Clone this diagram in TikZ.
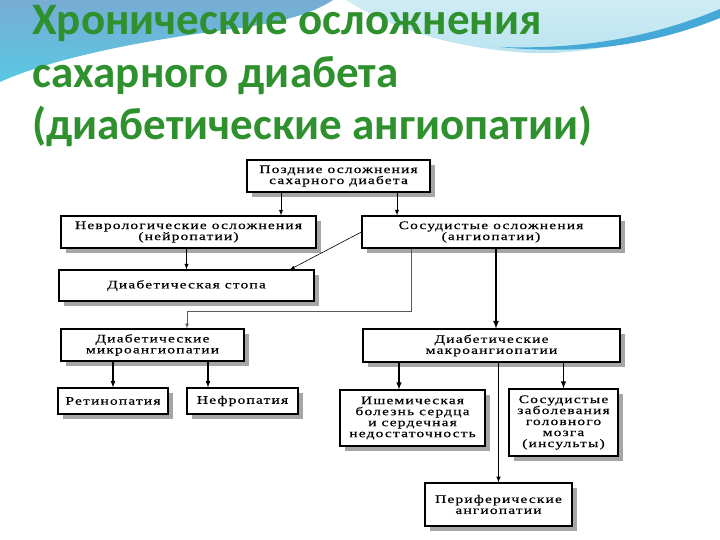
\documentclass[tikz,border=0pt]{standalone}
\usepackage{fontspec}
\setmainfont{Liberation Serif}[LetterSpace=10, FakeStretch=1.35, FakeBold=0.5]
\newfontfamily\zagfont{Carlito}
\usetikzlibrary{shadows}
\definecolor{zagzel}{RGB}{46,145,46}
\definecolor{volnasin}{RGB}{120,172,212}
\definecolor{volnabir}{RGB}{88,200,226}
\definecolor{volnagol}{RGB}{186,228,240}
\definecolor{polosa}{RGB}{70,168,214}
\begin{document}
\begin{tikzpicture}[x=1pt, y=-1pt, >=latex,
    blok/.style={draw, line width=1.1pt, fill=white, inner sep=1pt, align=center,
      font=\fontsize{11.5}{11}\selectfont,
      general shadow={fill=black!35, shadow xshift=5pt, shadow yshift=-5pt}},
    zag/.style={anchor=base west, inner sep=0pt, text=zagzel,
      font=\zagfont\bfseries\fontsize{45}{48}\selectfont}]
\useasboundingbox (0,0) rectangle (720,540);
% Фон слайда
\fill[white] (0,0) rectangle (720,540);
\shade[top color=volnasin, bottom color=volnabir] (0,0) -- (333,0)
  .. controls (310,15) and (280,22) .. (240,28) .. controls (160,38) and (60,55) .. (0,82) -- cycle;
\shade[top color=volnagol!70, bottom color=volnagol] (346,0) -- (720,0) -- (720,13)
  .. controls (660,38) and (590,55) .. (530,53) .. controls (450,48) and (390,28) .. (346,0) -- cycle;
\fill[polosa] (720,9) .. controls (660,34) and (590,50) .. (500,47)
  .. controls (590,56) and (660,42) .. (720,18) -- cycle;
% Заголовок
\node[zag] (zag1) at (32,35) {Хронические осложнения};
\node[zag] (zag2) at (32,88) {сахарного диабета};
\node[zag] (zag3) at (32,140) {(диабетические ангиопатии)};
% Блоки
\node[blok, minimum width=183pt, minimum height=32pt] (poz) at (338.5,176) {Поздние осложнения\\сахарного диабета};
\node[blok, minimum width=255pt, minimum height=32pt] (nevr) at (188.5,232) {Неврологические осложнения\\(нейропатии)};
\node[blok, minimum width=258pt, minimum height=32pt] (sos) at (491,232) {Сосудистые осложнения\\(ангиопатии)};
\node[blok, minimum width=255pt, minimum height=31pt] (stopa) at (186.5,285.5) {Диабетическая стопа};
\node[blok, minimum width=183pt, minimum height=32pt] (mikro) at (152.5,345) {Диабетические\\микроангиопатии};
\node[blok, minimum width=257pt, minimum height=33pt] (makro) at (491.5,345.5) {Диабетические\\макроангиопатии};
\node[blok, minimum width=110pt, minimum height=26pt] (retin) at (113,401) {Ретинопатия};
\node[blok, minimum width=111pt, minimum height=26pt] (nefro) at (242.5,401) {Нефропатия};
\node[blok, minimum width=145pt, minimum height=56pt] (ishem) at (412.5,418) {Ишемическая\\болезнь сердца\\и сердечная\\недостаточность};
\node[blok, minimum width=109pt, minimum height=67pt] (sosgol) at (563.5,422.5) {Сосудистые\\заболевания\\головного\\мозга\\(инсульты)};
\node[blok, minimum width=147pt, minimum height=43pt] (perif) at (498.5,504.5) {Периферические\\ангиопатии};
% Связи
\draw[->, line width=0.9pt] ([xshift=-57.5pt]poz.south) -- ([xshift=-57.5pt]poz.south |- nevr.north);
\draw[->, line width=0.9pt] ([xshift=58.5pt]poz.south) -- ([xshift=58.5pt]poz.south |- sos.north);
\draw[->, line width=0.9pt] (nevr.south -| stopa.north) -- (stopa.north);
\draw[->, line width=0.6pt] (sos.west) -- ([xshift=103.5pt]stopa.north);
\draw[->, line width=0.7pt, black!65] ([xshift=-80pt]sos.south) -- ++(0,63) -| ([xshift=34.5pt]mikro.north);
\draw[->, line width=1.6pt] ([xshift=5pt]sos.south) -- ([xshift=5pt]sos.south |- makro.north);
\draw[->, line width=1.2pt] (mikro.south -| retin.north) -- (retin.north);
\draw[->, line width=1.2pt] ([xshift=55.5pt]mikro.south) -- ([xshift=55.5pt]mikro.south |- nefro.north);
\draw[->, line width=1.4pt] ([xshift=-13.5pt]ishem.north |- makro.south) -- ([xshift=-13.5pt]ishem.north);
\draw[->, line width=1.4pt] (makro.south -| sosgol.north) -- (sosgol.north);
\draw[->, line width=1pt] (makro.south -| perif.north) -- (perif.north);
\end{tikzpicture}
\end{document}
